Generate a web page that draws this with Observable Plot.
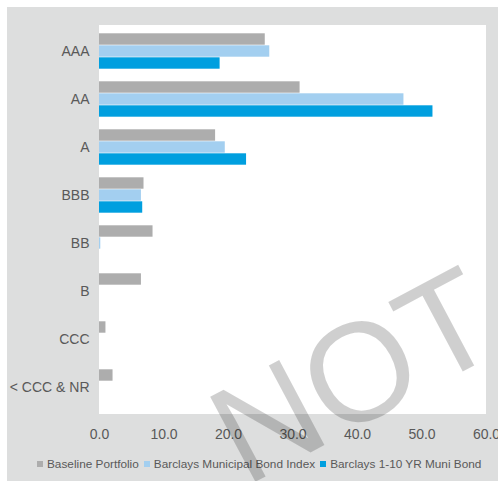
<!DOCTYPE html>
<html>
<head>
<meta charset="utf-8">
<script src="https://cdn.jsdelivr.net/npm/d3@7"></script>
<script src="https://cdn.jsdelivr.net/npm/@observablehq/plot@0.6"></script>
<style>
  html, body { margin: 0; padding: 0; background: #ffffff; }
  #wrap { position: relative; width: 498px; height: 481px; overflow: hidden; }
  #panel { position: absolute; left: 7px; top: 7px; width: 491px; height: 474px; background: #dddede; }
  #plotarea { position: absolute; background: #ffffff; }
  #chart { position: absolute; left: 0; top: 0; }
  #legend { position: absolute; left: 37px; top: 457px; display: flex; align-items: center;
            font-family: "Liberation Sans", Arial, sans-serif; font-size: 11.8px; color: #595959; white-space: nowrap; }
  #legend .item { display: flex; align-items: center; margin-right: 5px; }
  #legend .sw { width: 6px; height: 6px; margin-right: 4px; }
  #wm { position: absolute; left: 0; top: 0; pointer-events: none; }
</style>
</head>
<body>
<div id="wrap">
  <div id="panel"></div>
  <div id="plotarea"></div>
  <div id="chart"></div>
  <div id="legend"></div>
  <svg id="wm" width="498" height="481"></svg>
</div>
<script>
const ratings = ["AAA", "AA", "A", "BBB", "BB", "B", "CCC", "< CCC & NR"];
const seriesNames = ["Baseline Portfolio", "Barclays Municipal Bond Index", "Barclays 1-10 YR Muni Bond"];
const baseline = [25.7, 31.1, 18.0, 6.9, 8.3, 6.5, 1.0, 2.1];
const municipal = [26.4, 47.2, 19.5, 6.5, 0.2, 0.0, 0.0, 0.0];
const muni110 = [18.7, 51.7, 22.8, 6.7, 0.0, 0.0, 0.0, 0.0];
const xTicks = [0, 10, 20, 30, 40, 50, 60];
const colors = ["#adadad", "#a3cff0", "#009fdf"];
const watermark = "NOT";

const seriesValues = [baseline, municipal, muni110];
const data = [];
ratings.forEach((r, i) => {
  seriesNames.forEach((s, j) => {
    data.push({rating: r, series: s, value: seriesValues[j][i]});
  });
});

const W = 498, H = 481;
const plot = Plot.plot({
  width: W,
  height: H,
  marginTop: 25,
  marginBottom: 67,
  marginLeft: 99,
  marginRight: 12,
  style: {background: "transparent", fontFamily: "Liberation Sans, Arial, sans-serif", color: "#595959"},
  x: {domain: [0, 60], ticks: xTicks, tickFormat: d3.format(".1f"), tickSize: 0, tickPadding: 24, label: null},
  y: {domain: seriesNames, axis: null, padding: 0},
  fy: {domain: ratings, axis: "left", paddingInner: 0.24, paddingOuter: 0.12, tickSize: 0, tickPadding: 10, label: null},
  color: {domain: seriesNames, range: colors},
  facet: {marginTop: 0, marginBottom: 0, marginLeft: 0, marginRight: 0},
  marks: [
    Plot.barX(data, {x: "value", y: "series", fy: "rating", fill: "series", insetTop: 0.3, insetBottom: 0.3})
  ]
});
d3.select(plot).selectAll("text").style("font-size", "14px").attr("fill", "#595959");
document.getElementById("chart").appendChild(plot);

const xr = plot.scale("x").range;
const pa = document.getElementById("plotarea");
pa.style.left = xr[0] + "px";
pa.style.width = (xr[1] - xr[0]) + "px";
pa.style.top = "25px";
pa.style.height = (H - 25 - 67) + "px";

const lg = d3.select("#legend");
seriesNames.forEach((s, i) => {
  const it = lg.append("div").attr("class", "item");
  it.append("div").attr("class", "sw").style("background", colors[i]);
  it.append("span").text(s);
});

d3.select("#wm").append("text")
  .attr("transform", "translate(353,375) rotate(-28)")
  .attr("text-anchor", "middle")
  .attr("dominant-baseline", "central")
  .attr("font-family", "Liberation Sans, Arial, sans-serif")
  .attr("font-size", 140)
  .attr("fill", "#000")
  .attr("fill-opacity", 0.19)
  .text(watermark);
</script>
</body>
</html>
